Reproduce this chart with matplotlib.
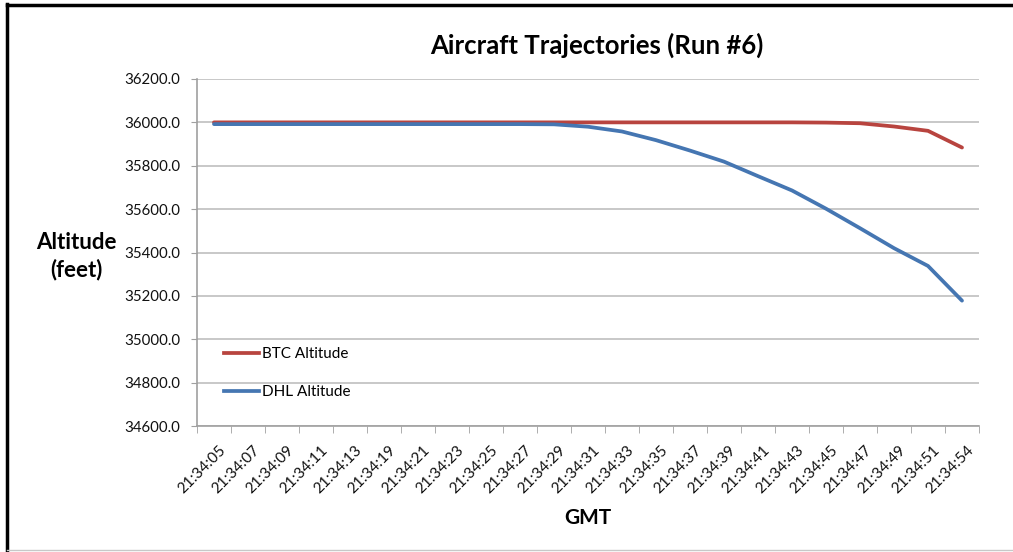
import matplotlib
matplotlib.use("Agg")
import matplotlib.pyplot as plt
from matplotlib.lines import Line2D
import matplotlib.transforms as mtransforms
import numpy as np

times = ["21:34:05", "21:34:07", "21:34:09", "21:34:11", "21:34:13", "21:34:19",
         "21:34:21", "21:34:23", "21:34:25", "21:34:27", "21:34:29", "21:34:31",
         "21:34:33", "21:34:35", "21:34:37", "21:34:39", "21:34:41", "21:34:43",
         "21:34:45", "21:34:47", "21:34:49", "21:34:51", "21:34:54"]
btc_altitude = [36000, 36000, 36000, 36000, 36000, 36000, 36000, 36000, 36000, 36000,
                36000, 36000, 36000, 36000, 36000, 36000, 36000, 36000, 35999, 35996,
                35981, 35961, 35884]
dhl_altitude = [35992, 35992, 35992, 35992, 35992, 35992, 35992, 35992, 35992, 35992,
                35991, 35980, 35958, 35918, 35870, 35819, 35752, 35686, 35602, 35512,
                35420, 35338, 35178]
y_ticks = [34600, 34800, 35000, 35200, 35400, 35600, 35800, 36000, 36200]

plt.rcParams['font.family'] = ['Lato', 'DejaVu Sans']

fig = plt.figure(figsize=(10.13, 5.52), dpi=100)
ax = fig.add_axes([197/1013, 1-426/552, (979-197)/1013, (426-79)/552])

x = np.arange(len(times))
red = '#B8443F'
blue = '#4576B2'
ax.plot(x, btc_altitude, color=red, lw=2.7, solid_capstyle='round', zorder=3)
ax.plot(x, dhl_altitude, color=blue, lw=2.7, solid_capstyle='round', zorder=4)

ax.set_xlim(-0.5, len(times) - 0.5)
ax.set_ylim(34600, 36200)
ax.set_yticks(y_ticks)
ax.set_yticklabels([f"{v:.1f}" for v in y_ticks], fontsize=10.8, color='#111111')
ax.yaxis.grid(True, color='#BFBFBF', lw=1.2)
ax.set_axisbelow(True)

ax.set_xticks(x)
ax.set_xticklabels(times, rotation=45, ha='right', rotation_mode='anchor',
                   fontsize=11, color='#111111')
ax.tick_params(axis='x', length=0, pad=6)
offset = mtransforms.ScaledTranslation(5/100, -9/100, fig.dpi_scale_trans)
for lbl in ax.get_xticklabels():
    lbl.set_transform(lbl.get_transform() + offset)
ax.set_xticks(np.arange(len(times) + 1) - 0.5, minor=True)
ax.tick_params(axis='x', which='minor', length=5, color='#A0A0A0', direction='out')
ax.tick_params(axis='y', length=4, color='#A0A0A0', direction='out', pad=8)

for s in ['top', 'right']:
    ax.spines[s].set_visible(False)
for s in ['left', 'bottom']:
    ax.spines[s].set_color('#A0A0A0')
    ax.spines[s].set_linewidth(1.2)

handles = [Line2D([0], [0], color=red, lw=2.7), Line2D([0], [0], color=blue, lw=2.7)]
ax.legend(handles, ['BTC Altitude', 'DHL Altitude'], loc='lower left',
          bbox_to_anchor=(0.0164, 0.038), frameon=False, fontsize=11,
          labelspacing=1.55, handlelength=2.3, handletextpad=0.2)

fig.text(597/1013, 1-45/552, 'Aircraft Trajectories (Run #6)', ha='center', va='center',
         fontsize=18.5, fontweight='bold')
fig.text(76/1013, 1-256/552, 'Altitude\n(feet)', ha='center', va='center',
         fontsize=16, fontweight='bold', linespacing=1.3)
fig.text(588/1013, 1-518/552, 'GMT', ha='center', va='center',
         fontsize=15, fontweight='bold')

# outer frame
fig.add_artist(Line2D([7/1013, 7/1013], [0, 1-4/552], transform=fig.transFigure,
                      color='black', lw=2.5))
fig.add_artist(Line2D([7/1013, 1], [1-5/552, 1-5/552], transform=fig.transFigure,
                      color='black', lw=2.5))
fig.add_artist(Line2D([7/1013, 1], [1-550/552, 1-550/552], transform=fig.transFigure,
                      color='#C8C8C8', lw=1))

fig.savefig('out.png', dpi=100)
